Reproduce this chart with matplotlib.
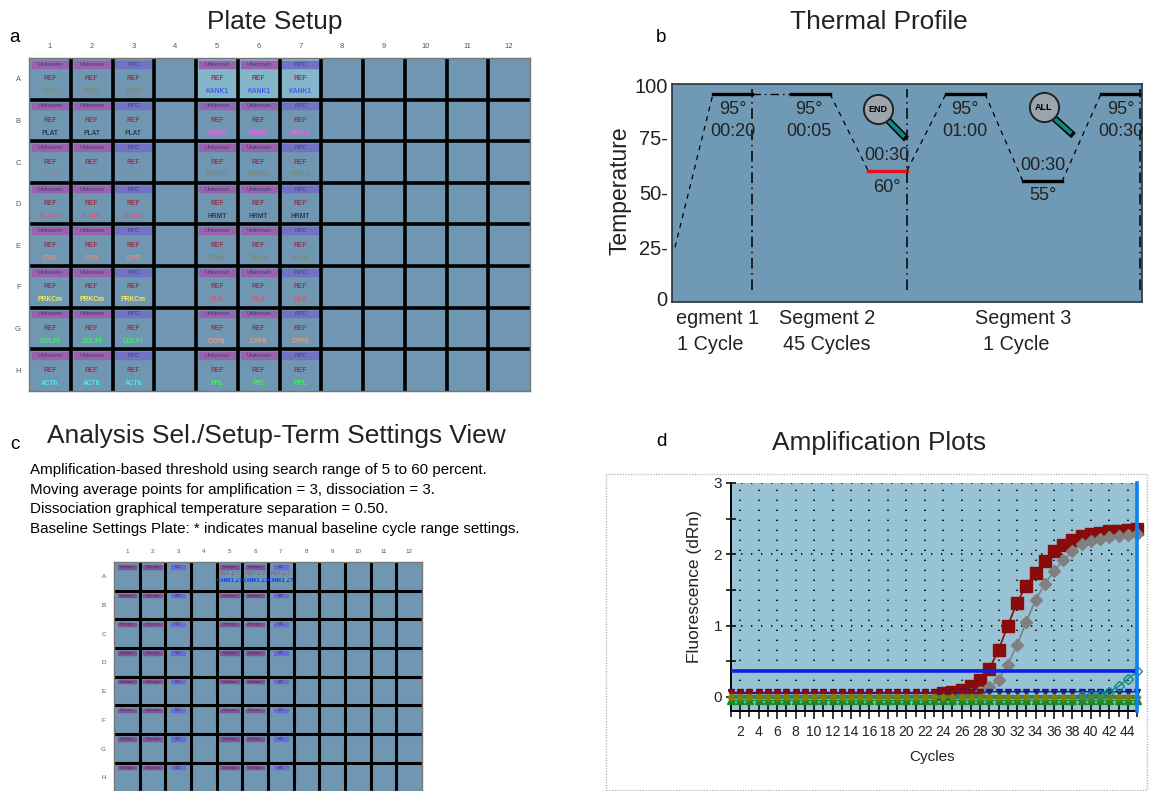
import matplotlib
matplotlib.use("Agg")
import matplotlib.pyplot as plt
from matplotlib.patches import Rectangle

plt.rcParams["font.family"] = ["Liberation Sans", "DejaVu Sans"]

W, H = 1150, 791

# plate setup
plate_cols = ["1", "2", "3", "4", "5", "6", "7", "8", "9", "10", "11", "12"]
plate_rows = ["A", "B", "C", "D", "E", "F", "G", "H"]
left_genes = ["ETS1", "PLAT", "CASK", "ELAP1", "CYR", "PRKCm", "COLPI", "ACTb"]
left_colors = ["#7d8a78", "#2c3c50", "#7f8f9c", "#f0506a", "#f08a6a", "#f2f060", "#40ef70", "#50e8f0"]
right_genes = ["KANK1", "MMRA", "PAPPA", "HRMT", "TXNA", "GLA", "CYP8", "PPL"]
right_colors = ["#3a60f0", "#e860e8", "#7d8a78", "#2c3c50", "#7d8a70", "#f0506a", "#f09a70", "#40f060"]
sample_cols = [0, 1, 2]
gene_cols = [4, 5, 6]

# thermal profile
profile_x = [3, 41, 80, 119, 158, 196, 235, 274, 313, 351, 390, 429, 468]
profile_t = [25, 95, 95, 95, 95, 60, 60, 95, 95, 55, 55, 95, 95]
segment_x = [80, 235, 468]
temp_ticks = [1.5, 25, 50, 75, 99]
temp_labels = ["0", "25-", "50-", "75-", "100"]

# amplification plots
cycles = list(range(1, 46))
red_sq = [0.02, 0.02, 0.02, 0.02, 0.02, 0.02, 0.02, 0.02, 0.02, 0.02,
          0.02, 0.02, 0.02, 0.02, 0.02, 0.02, 0.02, 0.02, 0.02, 0.02,
          0.02, 0.03, 0.03, 0.05, 0.07, 0.10, 0.145, 0.24, 0.39, 0.66,
          1.00, 1.32, 1.56, 1.74, 1.91, 2.04, 2.13, 2.20, 2.25, 2.28,
          2.30, 2.32, 2.33, 2.34, 2.35]
gray_di = [0.0, 0.0, 0.0, 0.0, 0.0, 0.0, 0.0, 0.0, 0.0, 0.0,
           0.0, 0.0, 0.0, 0.0, 0.0, 0.0, 0.0, 0.0, 0.0, 0.0,
           0.0, 0.0, 0.0, 0.0, 0.01, 0.02, 0.04, 0.07, 0.13, 0.24,
           0.45, 0.73, 1.05, 1.36, 1.58, 1.76, 1.92, 2.04, 2.14, 2.19,
           2.22, 2.24, 2.26, 2.27, 2.28]
teal_di = [0.0, 0.0, 0.0, 0.0, 0.0, 0.0, 0.0, 0.0, 0.0, 0.0,
           0.0, 0.0, 0.0, 0.0, 0.0, 0.0, 0.0, 0.0, 0.0, 0.0,
           0.0, 0.0, 0.0, 0.0, 0.0, 0.0, 0.0, 0.0, 0.0, 0.0,
           0.0, 0.0, 0.0, 0.0, 0.0, 0.0, 0.0, 0.0, 0.01, 0.02,
           0.03, 0.07, 0.145, 0.25, 0.355]
navy_tri = [0.06, 0.06, 0.06, 0.06, 0.06, 0.06, 0.06, 0.06, 0.06, 0.06,
            0.06, 0.06, 0.06, 0.06, 0.06, 0.06, 0.06, 0.06, 0.06, 0.06,
            0.06, 0.06, 0.06, 0.06, 0.06, 0.06, 0.06, 0.06, 0.07, 0.07,
            0.07, 0.07, 0.07, 0.07, 0.07, 0.07, 0.07, 0.07, 0.07, 0.07,
            0.07, 0.07, 0.07, 0.07, 0.07]
red_tri = [0.05, 0.05, 0.05, 0.05, 0.05, 0.05, 0.05, 0.05, 0.05, 0.05,
           0.05, 0.05, 0.05, 0.05, 0.05, 0.05, 0.05, 0.05, 0.05, 0.05,
           0.05, 0.05, 0.05, 0.05, 0.05, 0.05, 0.05, 0.05]
teal_flat = [0.0, 0.0, 0.0, 0.0, 0.0, 0.0, 0.0, 0.0, 0.0, 0.0,
             0.0, 0.0, 0.0, 0.0, 0.0, 0.0, 0.0, 0.0, 0.0, 0.0,
             0.0, 0.0, 0.0, 0.0, 0.0, 0.0, 0.0, 0.0, 0.0, 0.0,
             0.0, 0.0, 0.0, 0.0, 0.0, 0.0, 0.0, 0.0, 0.0, 0.0,
             0.0, 0.0, 0.0, 0.0, 0.0]
green_tri = [-0.04, -0.04, -0.04, -0.04, -0.04, -0.04, -0.04, -0.04, -0.04, -0.04,
             -0.04, -0.04, -0.04, -0.04, -0.04, -0.04, -0.04, -0.04, -0.04, -0.04,
             -0.04, -0.04, -0.04, -0.04, -0.04, -0.04, -0.04, -0.04, -0.04, -0.04,
             -0.04, -0.04, -0.04, -0.04, -0.04, -0.04, -0.04, -0.04, -0.04, -0.04,
             -0.04, -0.04, -0.04, -0.04, -0.04]
olive_ci = [-0.01, -0.01, -0.01, -0.01, -0.01, -0.01, -0.01, -0.01, -0.01, -0.01,
            -0.01, -0.01, -0.01, -0.01, -0.01, -0.01, -0.01, -0.01, -0.01, -0.01,
            -0.01, -0.01, -0.01, -0.01, -0.01, -0.01, -0.01, -0.01, -0.01, -0.01,
            -0.01, -0.01, -0.01, -0.01, -0.01, -0.01, -0.01, -0.01, -0.01, -0.01,
            -0.01, -0.01, -0.01, -0.01, -0.01]
threshold = 0.36
amp_ticks = [2, 4, 6, 8, 10, 12, 14, 16, 18, 20, 22, 24, 26, 28, 30, 32, 34, 36, 38, 40, 42, 44]

settings_lines = [
    "Amplification-based threshold using search range of 5 to 60 percent.",
    "Moving average points for amplification = 3, dissociation = 3.",
    "Dissociation graphical temperature separation = 0.50.",
    "Baseline Settings Plate: * indicates manual baseline cycle range settings.",
]

fig = plt.figure(figsize=(W / 100, H / 100), dpi=100, facecolor="white")


def add_ax(x0, y0, x1, y1):
    return fig.add_axes([x0 / W, 1 - y1 / H, (x1 - x0) / W, (y1 - y0) / H])


def txt(x, y, s, size=14, **kw):
    kw.setdefault("ha", "center")
    kw.setdefault("va", "center")
    kw.setdefault("color", "#222222")
    fig.text(x / W, 1 - y / H, s, fontsize=size, **kw)


def plate(ax, lw, head_size):
    ax.set_xlim(0, 12)
    ax.set_ylim(8, 0)
    ax.set_facecolor("#6f97b1")
    ax.vlines(range(1, 12), 0, 8, color="black", lw=lw)
    ax.hlines(range(1, 8), 0, 12, color="black", lw=lw)
    ax.set_xticks([i + 0.5 for i in range(12)], plate_cols, fontsize=head_size, color="#555555")
    ax.set_yticks([i + 0.5 for i in range(8)], plate_rows, fontsize=head_size, color="#555555")
    ax.xaxis.tick_top()
    ax.tick_params(length=0, pad=6)
    for s in ax.spines.values():
        s.set_color("#777777")
        s.set_linewidth(1)


# panel a
ax_a = add_ax(29, 58, 530, 391)
plate(ax_a, 2.6, 5.5)
ax_a.add_patch(Rectangle((4, 0), 3, 1, color="#85b5c8", zorder=0))
for r in range(8):
    for group, genes, colors in [(sample_cols, left_genes, left_colors), (gene_cols, right_genes, right_colors)]:
        for n, c in enumerate(group):
            name = "NTC" if n == 2 else "Unknown"
            head = "#7272c4" if n == 2 else "#9a62ae"
            ax_a.add_patch(Rectangle((c + 0.07, r + 0.07), 0.86, 0.16, color=head, zorder=1))
            ax_a.text(c + 0.5, r + 0.15, name, fontsize=4.3, color="#3c3c70", ha="center", va="center")
            ax_a.text(c + 0.5, r + 0.5, "REF", fontsize=4.8, color="#8c3a50", ha="center", va="center", weight="bold")
            ax_a.text(c + 0.5, r + 0.81, genes[r], fontsize=4.8, color=colors[r], ha="center", va="center", weight="bold")

# panel c
ax_c = add_ax(114, 562, 422, 791)
plate(ax_c, 2.2, 4.5)
ax_c.set_ylim(7.98, 0)
for r in range(8):
    for c in sample_cols + gene_cols:
        is_ntc = c % 4 == 2
        name = "NTC" if is_ntc else "Unknown"
        color = "#6a6ad8" if is_ntc else "#85509a"
        bar_w = 0.55 if is_ntc else 0.72
        ax_c.add_patch(Rectangle((c + 0.5 - bar_w / 2, r + 0.11), bar_w, 0.12, color=color, zorder=1))
        ax_c.text(c + 0.5, r + 0.17, name, fontsize=2.4, color="#40305a", ha="center", va="center")
for c in gene_cols:
    ax_c.text(c + 0.5, 0.41, "REF \u2220 ?", fontsize=3.4, color="#a04a60", ha="center", va="center", clip_on=False)
    ax_c.text(c + 0.5, 0.63, "KANK1 \u2220?", fontsize=3.4, color="#1030f0", ha="center", va="center", weight="bold", clip_on=False)

# panel b
ax_b = add_ax(672, 84, 1142, 302)
ax_b.set_xlim(0, 470)
ax_b.set_ylim(0, 99.5)
ax_b.set_facecolor("#7099b5")
ramp = dict(color="black", lw=0.9, ls=(0, (4, 4)))
ax_b.plot(profile_x[:2], profile_t[:2], **ramp)
ax_b.plot(profile_x[1:3], profile_t[1:3], color="black", lw=2.4)
ax_b.plot(profile_x[2:4], profile_t[2:4], color="black", lw=1, ls=(0, (6, 3, 1, 3)))
ax_b.plot(profile_x[3:5], profile_t[3:5], color="black", lw=2.4)
ax_b.plot(profile_x[4:6], profile_t[4:6], **ramp)
ax_b.plot(profile_x[5:7], profile_t[5:7], color="#e8101c", lw=2.4)
ax_b.plot(profile_x[6:8], profile_t[6:8], **ramp)
ax_b.plot(profile_x[7:9], profile_t[7:9], color="black", lw=2.4)
ax_b.plot(profile_x[8:10], profile_t[8:10], **ramp)
ax_b.plot(profile_x[9:11], profile_t[9:11], color="black", lw=2.4)
ax_b.plot(profile_x[10:12], profile_t[10:12], **ramp)
ax_b.plot(profile_x[11:13], profile_t[11:13], color="black", lw=2.4)
ax_b.vlines(segment_x, 5.5, 97, color="black", lw=1.1, ls=(0, (7, 3, 1, 3)))
ax_b.set_xticks([])
ax_b.set_yticks(temp_ticks, temp_labels, fontsize=14.5, color="#222222")
ax_b.tick_params(length=0, pad=3)
for s in ax_b.spines.values():
    s.set_color("#26323a")
    s.set_linewidth(1.2)
# END and ALL lenses
for cx, cy, label, x1, y1 in [(206, 88, "END", 232, 75.5), (372, 89, "ALL", 399, 77)]:
    ax_b.plot([cx + 10, x1], [cy - 5, y1], color="black", lw=5, zorder=3)
    ax_b.plot([cx + 11, x1 - 1], [cy - 5.5, y1 + 0.5], color="#0f8a80", lw=2.8, zorder=3)
    ax_b.plot([cx], [cy], marker="o", ms=21, mfc="#9aa6ac", mec="#222222", mew=1.4, zorder=4)
    ax_b.text(cx, cy, label, fontsize=6.5, weight="bold", ha="center", va="center", zorder=5)

for x, y, s in [(733, 110, "95\u00b0"), (733, 131, "00:20"), (809, 110, "95\u00b0"), (809, 131, "00:05"),
                (887, 156, "00:30"), (887, 187, "60\u00b0"), (965, 110, "95\u00b0"), (965, 131, "01:00"),
                (1043, 166, "00:30"), (1043, 196, "55\u00b0"), (1121, 110, "95\u00b0"), (1121, 131, "00:30")]:
    txt(x, y, s, size=13)
for x, y, s in [(718, 318, "egment 1"), (827, 318, "Segment 2"), (1023, 318, "Segment 3"),
                (710, 345, "1 Cycle"), (827, 345, "45 Cycles"), (1016, 345, "1 Cycle")]:
    txt(x, y, s, size=14.3)
txt(620, 191, "Temperature", size=16.5, rotation=90)

# panel d
fig.add_artist(Rectangle((606 / W, 1 - 790 / H), 541 / W, 316 / H, transform=fig.transFigure,
                         fc="white", ec="#bbbbbb", lw=1, ls=(0, (1, 1)), zorder=-1))
ax_d = add_ax(731, 483, 1137, 711)
ax_d.set_xlim(1, 45)
ax_d.set_ylim(-0.2, 3)
ax_d.set_facecolor("#97c3d5")
for s in ["top", "right"]:
    ax_d.spines[s].set_visible(False)
for s in ["left", "bottom"]:
    ax_d.spines[s].set_color("black")
    ax_d.spines[s].set_linewidth(1.4)
ax_d.set_xticks(amp_ticks, [str(v) for v in amp_ticks], fontsize=10, color="#222222")
ax_d.set_xticks(cycles, minor=True)
ax_d.set_yticks([0, 1, 2, 3], ["0", "1", "2", "3"], fontsize=11, color="#222222")
ax_d.set_yticks([0.5, 1.5, 2.5], minor=True)
ax_d.tick_params(axis="x", which="major", length=12, width=1.1, direction="inout", pad=4)
ax_d.tick_params(axis="x", which="minor", length=8, width=1.1, direction="inout")
ax_d.tick_params(axis="y", which="both", length=7, width=1.1, direction="inout", pad=3)
ax_d.grid(True, which="major", color="black", lw=1.2, ls=(0, (0.8, 5.2)))
ax_d.set_axisbelow(False)

# curves first, the baseline band sits over the flat start of them
ax_d.plot(cycles[23:], red_sq[23:], color="#8b0a0a", lw=1.2, marker="s", ms=8, mfc="#8b0a0a", mec="#8b0a0a", clip_on=False, zorder=5)
ax_d.plot(cycles[25:], gray_di[25:], color="#808080", lw=1.2, marker="D", ms=6.5, mfc="#808080", mec="#808080", clip_on=False, zorder=6)
ax_d.plot(cycles, navy_tri, color="#1a1a90", lw=1, marker="v", ms=4.5, mfc="#1a1a90", mec="#1a1a90", clip_on=False, zorder=7)
ax_d.plot(cycles[:28], red_tri, color="#8b0a0a", lw=1, marker="v", ms=5, mfc="#8b0a0a", mec="#8b0a0a", clip_on=False, zorder=7)
ax_d.plot(cycles, green_tri, color="#188a20", lw=1, marker="^", ms=6, mfc="#188a20", mec="#188a20", clip_on=False, zorder=7)
ax_d.plot(cycles, teal_flat, color="#0f8a80", lw=3, clip_on=False, zorder=8)
ax_d.plot(cycles, olive_ci, color="#808000", lw=0, marker="D", ms=3.5, mfc="#808000", mec="#808000", clip_on=False, zorder=8)
ax_d.plot(cycles[38:], teal_di[38:], color="#0f8a80", lw=1, marker="D", ms=5, mfc="none", mec="#0f8a80", clip_on=False, zorder=9)
ax_d.axhline(threshold, color="#0a20e8", lw=2.6, zorder=9)
ax_d.plot([45, 45], [-0.2, 3], color="#1080f0", lw=2.6, clip_on=False, zorder=10)

txt(695, 587, "Fluorescence (dRn)", size=12.5, rotation=90)
txt(932, 757, "Cycles", size=11)

# titles, panel letters, settings text
for x, y, s in [(275, 22, "Plate Setup"), (879, 22, "Thermal Profile"),
                (276, 436, "Analysis Sel./Setup-Term Settings View"), (879, 443, "Amplification Plots")]:
    txt(x, y, s, size=18.9)
for x, y, s in [(15, 38, "a"), (661, 38, "b"), (15, 445, "c"), (661, 441, "d")]:
    txt(x, y, s, size=13.5, color="black")
for y, s in zip([470, 490, 509, 529], settings_lines):
    txt(30, y, s, size=10.93, ha="left", color="black")

fig.savefig("out.png", dpi=100)
